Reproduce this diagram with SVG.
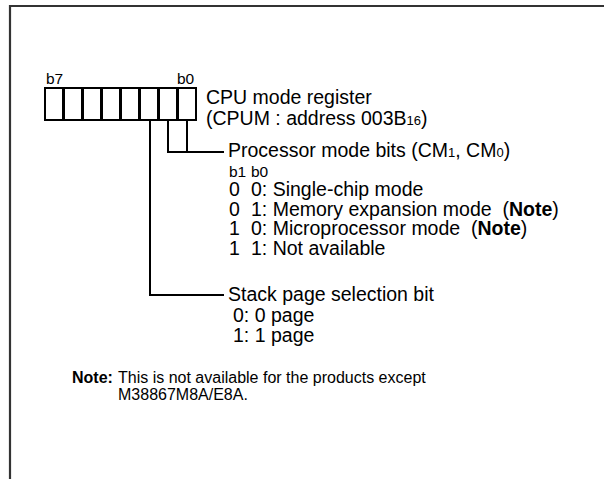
<svg xmlns="http://www.w3.org/2000/svg" width="604" height="479" viewBox="0 0 604 479">
<style>
text{font-family:"Liberation Sans",Arial,sans-serif;fill:#000}
.m{font-size:19.5px}
.sub{font-size:13px}
.s{font-size:15.5px}
.n{font-size:16px}
.b{font-weight:bold}
.box{fill:#fff;stroke:#000;stroke-width:2}
.ln{fill:none;stroke:#000;stroke-width:2}
</style>
<rect width="604" height="479" fill="#fff"/>
<path d="M10 479 V6 H604" fill="none" stroke="#333" stroke-width="2.2"/>
<g id="register">
<text class="s" x="46" y="84">b7</text>
<text class="s" x="177" y="84">b0</text>
<rect class="box" x="45" y="88" width="18" height="32"/>
<rect class="box" x="64" y="88" width="18" height="32"/>
<rect class="box" x="83" y="88" width="18" height="32"/>
<rect class="box" x="102" y="88" width="18" height="32"/>
<rect class="box" x="121" y="88" width="18" height="32"/>
<rect class="box" x="140" y="88" width="18" height="32"/>
<rect class="box" x="159" y="88" width="18" height="32"/>
<rect class="box" x="178" y="88" width="18" height="32"/>
<text class="m" x="206" y="104">CPU mode register</text>
<text class="m" x="206" y="125">(CPUM : address 003B<tspan class="sub">16</tspan>)</text>
</g>
<g id="connectors">
<path class="ln" d="M168 120 V152 H224"/>
<path class="ln" d="M187 120 V152"/>
<path class="ln" d="M150 120 V295 H224"/>
</g>
<g id="processor-mode">
<text class="m" x="228" y="157">Processor mode bits (CM<tspan class="sub">1</tspan>, CM<tspan class="sub">0</tspan>)</text>
<text class="s" x="229" y="177">b1</text>
<text class="s" x="251" y="177">b0</text>
<text class="m" x="229" y="196">0</text><text class="m" x="251" y="196">0: Single-chip mode</text>
<text class="m" x="229" y="215.5">0</text><text class="m" x="251" y="215.5">1: Memory expansion mode <tspan dx="5.4">(</tspan><tspan class="b">Note</tspan>)</text>
<text class="m" x="229" y="235">1</text><text class="m" x="251" y="235">0: Microprocessor mode <tspan dx="5.4">(</tspan><tspan class="b">Note</tspan>)</text>
<text class="m" x="229" y="254.5">1</text><text class="m" x="251" y="254.5">1: Not available</text>
</g>
<g id="stack-page">
<text class="m" x="228" y="301">Stack page selection bit</text>
<text class="m" x="233" y="321.5">0: 0 page</text>
<text class="m" x="233" y="342">1: 1 page</text>
</g>
<g id="note">
<text class="n" x="72" y="383"><tspan class="b">Note:</tspan></text>
<text class="n" x="118" y="383">This is not available for the products except</text>
<text class="n" x="118" y="400">M38867M8A/E8A.</text>
</g>
</svg>
